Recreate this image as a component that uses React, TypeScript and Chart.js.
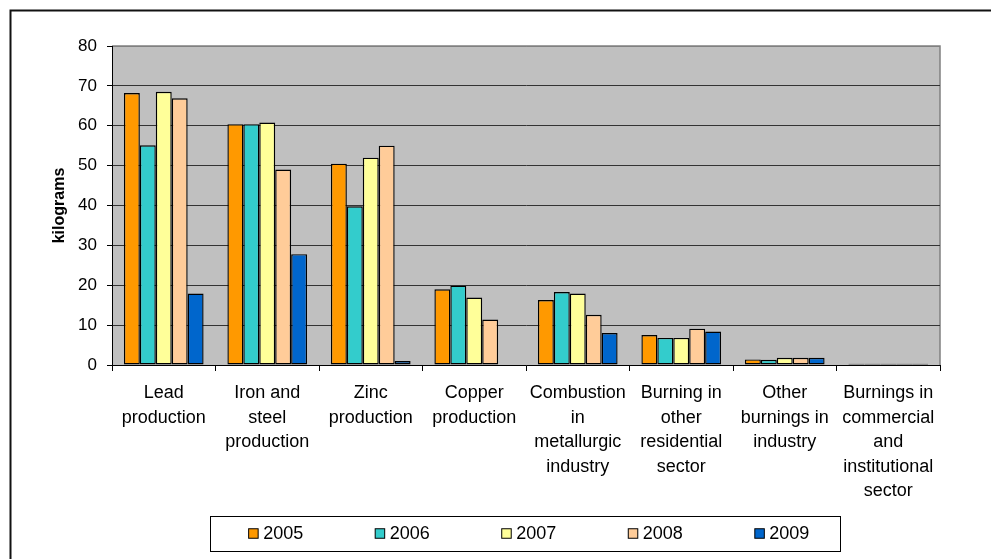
import { useEffect, useRef } from "react";
import { Chart, registerables } from "chart.js";

Chart.register(...registerables);

const FONT = "'Liberation Sans', Arial, sans-serif";

const categories: string[][] = [
  ["Lead", "production"],
  ["Iron and", "steel", "production"],
  ["Zinc", "production"],
  ["Copper", "production"],
  ["Combustion", "in", "metallurgic", "industry"],
  ["Burning in", "other", "residential", "sector"],
  ["Other", "burnings in", "industry"],
  ["Burnings in", "commercial", "and", "institutional", "sector"],
];

const years = ["2005", "2006", "2007", "2008", "2009"];

const values2005 = [68.2, 60.4, 50.5, 19.0, 16.3, 7.5, 1.4, 0.3];
const values2006 = [55.1, 60.4, 39.8, 19.9, 18.3, 6.8, 1.3, 0.3];
const values2007 = [68.5, 60.8, 52.0, 16.9, 17.9, 6.8, 1.8, 0.3];
const values2008 = [66.9, 49.0, 55.0, 11.4, 12.6, 9.1, 1.8, 0.3];
const values2009 = [17.9, 27.8, 1.0, null, 8.0, 8.4, 1.8, 0.3];

const yMin = 0;
const yMax = 80;
const yStep = 10;

const seriesValues = [values2005, values2006, values2007, values2008, values2009];
const seriesColors = ["#FF9900", "#33CCCC", "#FFFF99", "#FFCC99", "#0066CC"];

// Gray plot area with its frame, plus the outer chart frame.
const frame = {
  id: "frame",
  beforeDraw(chart: any) {
    const { ctx, chartArea } = chart;
    const { left, top, right, bottom } = chartArea;
    ctx.save();
    ctx.fillStyle = "#C0C0C0";
    ctx.fillRect(left, top, right - left, bottom - top);
    ctx.strokeStyle = "#808080";
    ctx.lineWidth = 1.5;
    ctx.beginPath();
    ctx.moveTo(left, top);
    ctx.lineTo(right, top);
    ctx.lineTo(right, bottom);
    ctx.stroke();

    ctx.strokeStyle = "#111";
    ctx.lineWidth = 2;
    ctx.beginPath();
    ctx.moveTo(2.5, chart.height + 5);
    ctx.lineTo(2.5, 2.5);
    ctx.lineTo(chart.width + 5, 2.5);
    ctx.stroke();
    ctx.restore();
  },
};

// Boxed legend in a single row under the category labels.
const boxedLegend = {
  id: "boxedLegend",
  afterDraw(chart: any) {
    const { ctx } = chart;
    const boxL = 202;
    const boxT = 508;
    const boxR = 832;
    const boxB = 543;
    const cy = (boxT + boxB) / 2;
    const swatch = 9.5;
    const gap = 5;
    const itemGap = 72;
    ctx.save();
    ctx.strokeStyle = "#000";
    ctx.lineWidth = 1;
    ctx.strokeRect(boxL + 0.5, boxT + 0.5, boxR - boxL, boxB - boxT);

    ctx.font = `18px ${FONT}`;
    ctx.textBaseline = "middle";
    ctx.textAlign = "left";
    const sets = chart.data.datasets;
    const widths = sets.map((d: any) => swatch + gap + ctx.measureText(d.label).width);
    const total = widths.reduce((a: number, b: number) => a + b, 0) + itemGap * (sets.length - 1);
    let x = (boxL + boxR) / 2 - total / 2 + 4;
    sets.forEach((d: any, i: number) => {
      ctx.fillStyle = d.backgroundColor;
      ctx.fillRect(x, cy - swatch / 2, swatch, swatch);
      ctx.strokeStyle = "#000";
      ctx.lineWidth = 1;
      ctx.strokeRect(x, cy - swatch / 2, swatch, swatch);
      ctx.fillStyle = "#000";
      ctx.fillText(d.label, x + swatch + gap, cy + 1);
      x += widths[i] + itemGap;
    });
    ctx.restore();
  },
};

export default function App() {
  const canvasRef = useRef<HTMLCanvasElement | null>(null);

  useEffect(() => {
    if (!canvasRef.current) return;
    const chart = new Chart(canvasRef.current, {
      type: "bar",
      data: {
        labels: categories,
        datasets: years.map((year, i) => ({
          label: year,
          data: seriesValues[i],
          backgroundColor: seriesColors[i],
          borderColor: "#000",
          borderWidth: 1.4,
          borderSkipped: false,
          categoryPercentage: 0.77,
          barPercentage: 1,
        })),
      },
      options: {
        animation: false,
        responsive: false,
        maintainAspectRatio: false,
        layout: { padding: { left: 0, top: 38, right: 51, bottom: 0 } },
        plugins: {
          legend: { display: false },
          tooltip: { enabled: false },
        },
        scales: {
          x: {
            grid: {
              offset: true,
              drawOnChartArea: false,
              tickLength: 6,
              color: "#000",
            },
            border: { color: "#000", width: 1 },
            ticks: {
              padding: 10,
              color: "#000",
              maxRotation: 0,
              autoSkip: false,
              font: { family: FONT, size: 18, lineHeight: 1.36 },
            },
            afterFit: (s: any) => {
              s.height = 194;
            },
          },
          y: {
            min: yMin,
            max: yMax,
            ticks: {
              stepSize: yStep,
              padding: 10,
              color: "#000",
              font: { family: FONT, size: 17 },
            },
            grid: {
              color: (c: any) => (c.tick && c.tick.value === yMax ? "#808080" : "#333"),
              tickColor: "#000",
              tickLength: 5,
              lineWidth: 1,
            },
            border: { color: "#000", width: 1 },
            title: {
              display: true,
              text: "kilograms",
              color: "#000",
              font: { family: FONT, size: 16, weight: "bold" },
              padding: { top: 42, bottom: 0 },
            },
            afterFit: (s: any) => {
              s.width = 104;
            },
          },
        },
      },
      plugins: [frame, boxedLegend],
    });
    return () => chart.destroy();
  }, []);

  return (
    <div style={{ position: "fixed", left: 8, top: 8, width: 983, height: 551 }}>
      <canvas ref={canvasRef} width={983} height={551} style={{ display: "block" }} />
    </div>
  );
}
